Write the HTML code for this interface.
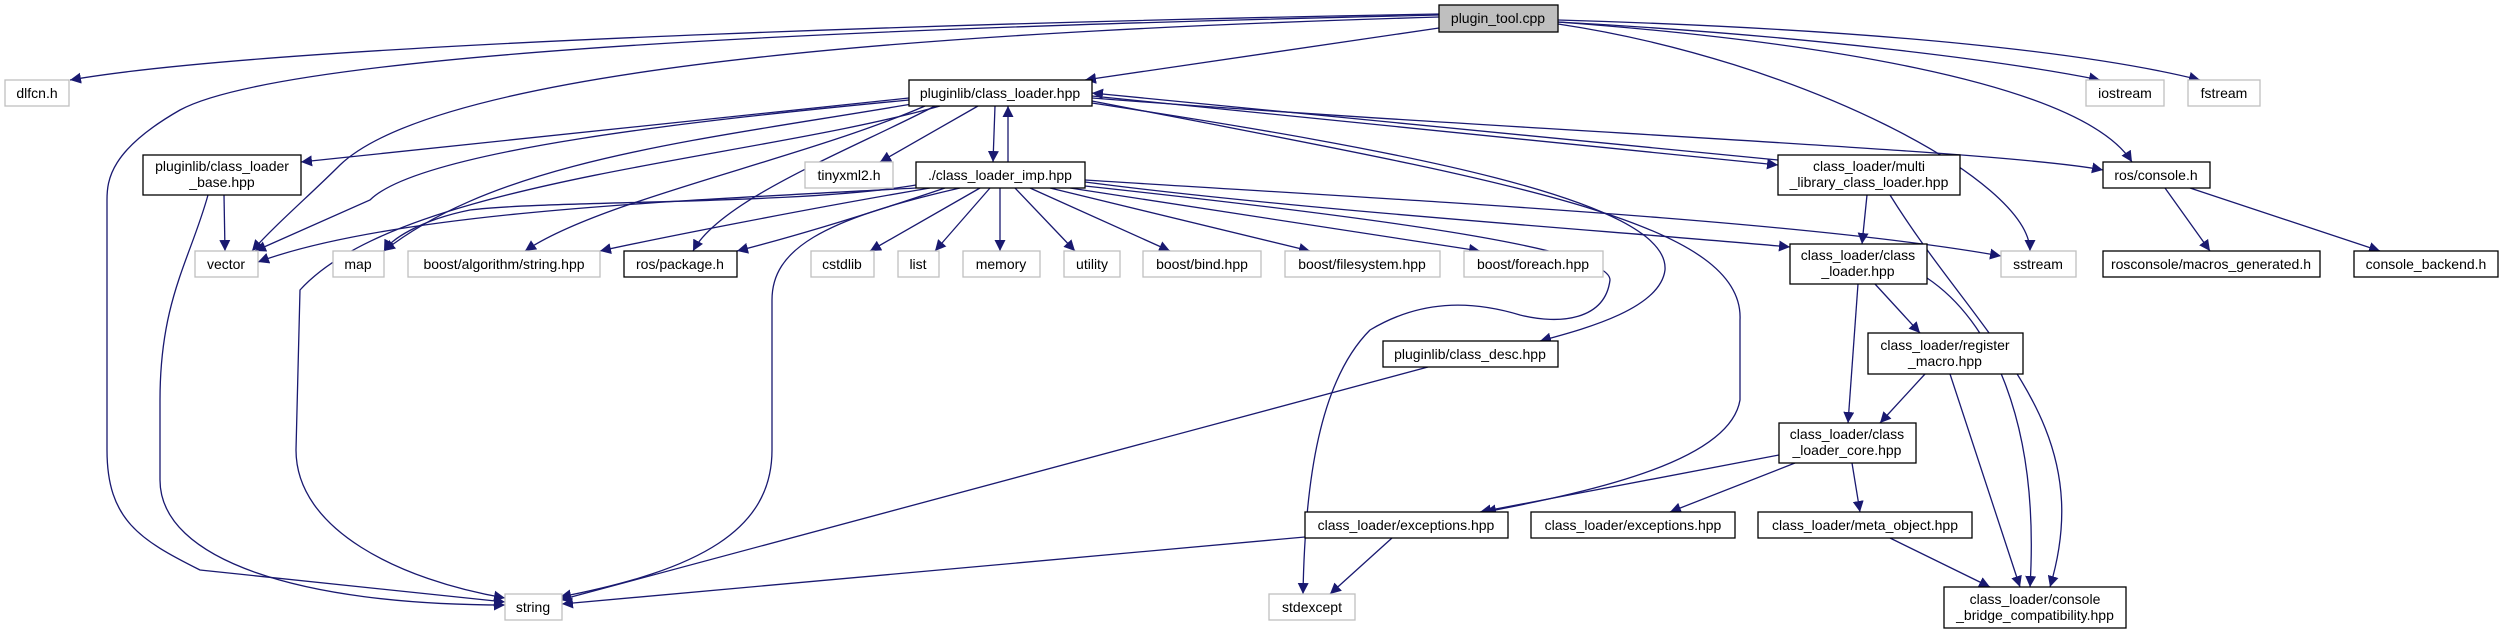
<!DOCTYPE html>
<html><head><meta charset="utf-8"><style>
html,body{margin:0;padding:0;background:#fff;}
svg{display:block;}
text{font-family:"Liberation Sans",sans-serif;font-size:14px;fill:#000;text-anchor:middle;}
</style></head><body>
<svg width="2504" height="633" viewBox="0 0 2504 633" xmlns="http://www.w3.org/2000/svg">
<defs>
<marker id="a" viewBox="0 0 10 10" refX="10" refY="5" markerWidth="11" markerHeight="11" markerUnits="userSpaceOnUse" orient="auto">
<path d="M0,0 L10,5 L0,10 z" fill="#191970"/>
</marker>
</defs>
<g fill="none" stroke="#191970" stroke-width="1.3" marker-end="url(#a)">
<path d="M1439,14 C1100,20 300,40 70,80"/>
<path d="M1439,17 C1000,30 450,60 340,165 C310,195 275,225 252,251"/>
<path d="M1439,15 C1000,25 300,45 180,110 C110,150 107,180 107,200 L107,450 C107,520 140,540 200,570 L505,602"/>
<path d="M1439,28 L1085,80"/>
<path d="M1558,22 C1800,35 2000,60 2100,80"/>
<path d="M1558,20 C1900,30 2100,55 2200,80"/>
<path d="M1558,22 C1800,40 2080,80 2132,162"/>
<path d="M1558,24 C1800,60 2030,180 2030,251"/>
<path d="M909,98 L301,162"/>
<path d="M909,100 C700,120 420,150 370,200 L255,251"/>
<path d="M912,104 C700,140 500,160 384,251"/>
<path d="M925,106 C800,160 600,200 525,251"/>
<path d="M935,106 C850,150 720,200 693,251"/>
<path d="M978,106 L880,162"/>
<path d="M995,106 L993,162"/>
<path d="M1008,162 L1008,106"/>
<path d="M940,106 C750,160 400,180 300,290 L296,450 C296,530 400,580 505,598"/>
<path d="M1092,103 C1400,150 1670,200 1665,270 C1660,310 1580,330 1540,341"/>
<path d="M1092,101 C1500,180 1745,220 1740,320 L1740,400 C1730,460 1600,490 1485,512"/>
<path d="M1092,96 L1778,165"/>
<path d="M1778,160 L1092,93"/>
<path d="M1092,98 C1500,130 2000,150 2103,170"/>
<path d="M916,188 C700,200 400,210 258,262"/>
<path d="M916,185 C800,205 550,200 470,210 C420,220 390,240 384,251"/>
<path d="M930,188 C800,210 650,240 600,251"/>
<path d="M945,188 C850,220 780,240 737,251"/>
<path d="M980,188 L870,251"/>
<path d="M990,188 L935,251"/>
<path d="M1000,188 L1000,251"/>
<path d="M1015,188 L1075,251"/>
<path d="M1030,188 L1170,251"/>
<path d="M1050,188 L1310,251"/>
<path d="M1070,188 L1480,251"/>
<path d="M1085,182 C1300,210 1600,230 1790,247"/>
<path d="M1085,180 C1400,200 1800,220 2001,256"/>
<path d="M960,188 C820,220 772,250 772,300 L772,450 C772,530 700,570 560,597"/>
<path d="M1085,186 C1400,220 1610,250 1610,280 C1605,320 1560,325 1520,315 C1470,300 1420,300 1370,330 C1320,380 1305,480 1303,594"/>
<path d="M224,195 L225,251"/>
<path d="M208,195 C190,260 160,300 160,400 L160,480 C160,560 300,605 505,605"/>
<path d="M1867,195 L1862,244"/>
<path d="M1890,195 C1980,340 2100,420 2050,587"/>
<path d="M2165,188 L2210,251"/>
<path d="M2190,188 L2380,251"/>
<path d="M1858,284 L1848,423"/>
<path d="M1875,284 L1920,333"/>
<path d="M1927,278 C1990,320 2040,420 2030,587"/>
<path d="M1925,374 L1880,423"/>
<path d="M1950,374 L2020,587"/>
<path d="M1779,455 L1480,512"/>
<path d="M1795,463 L1670,512"/>
<path d="M1852,463 L1860,512"/>
<path d="M1890,538 L1990,587"/>
<path d="M1305,537 L562,604"/>
<path d="M1392,538 L1330,594"/>
<path d="M1428,367 L560,600"/>
</g>
<g stroke-width="1.3">
<!-- gray boxes -->
<g fill="#fff" stroke="#bfbfbf">
<rect x="5" y="80" width="64" height="26"/>
<rect x="805" y="162" width="88" height="26"/>
<rect x="2086" y="80" width="78" height="26"/>
<rect x="2188" y="80" width="72" height="26"/>
<rect x="195" y="251" width="63" height="26"/>
<rect x="333" y="251" width="51" height="26"/>
<rect x="408" y="251" width="192" height="26"/>
<rect x="811" y="251" width="63" height="26"/>
<rect x="898" y="251" width="41" height="26"/>
<rect x="963" y="251" width="77" height="26"/>
<rect x="1064" y="251" width="56" height="26"/>
<rect x="1143" y="251" width="118" height="26"/>
<rect x="1285" y="251" width="155" height="26"/>
<rect x="1464" y="251" width="139" height="26"/>
<rect x="2001" y="251" width="75" height="26"/>
<rect x="505" y="594" width="57" height="26"/>
<rect x="1269" y="594" width="86" height="26"/>
</g>
<g fill="#fff" stroke="#000">
<rect x="1439" y="5" width="119" height="27" fill="#bfbfbf"/>
<rect x="909" y="80" width="183" height="26"/>
<rect x="143" y="155" width="158" height="40"/>
<rect x="916" y="162" width="169" height="26"/>
<rect x="1778" y="155" width="182" height="40"/>
<rect x="2103" y="162" width="107" height="26"/>
<rect x="624" y="251" width="113" height="26"/>
<rect x="2103" y="251" width="217" height="26"/>
<rect x="2354" y="251" width="144" height="26"/>
<rect x="1790" y="244" width="137" height="40"/>
<rect x="1383" y="341" width="175" height="26"/>
<rect x="1868" y="333" width="155" height="41"/>
<rect x="1779" y="423" width="137" height="40"/>
<rect x="1305" y="512" width="203" height="26"/>
<rect x="1531" y="512" width="204" height="26"/>
<rect x="1758" y="512" width="214" height="26"/>
<rect x="1944" y="587" width="182" height="41"/>
</g>
</g>
<g>
<text x="1498" y="23">plugin_tool.cpp</text>
<text x="37" y="98">dlfcn.h</text>
<text x="1000" y="98">pluginlib/class_loader.hpp</text>
<text x="2125" y="98">iostream</text>
<text x="2224" y="98">fstream</text>
<text x="222" y="171">pluginlib/class_loader</text>
<text x="222" y="187">_base.hpp</text>
<text x="849" y="180">tinyxml2.h</text>
<text x="1000" y="180">./class_loader_imp.hpp</text>
<text x="1869" y="171">class_loader/multi</text>
<text x="1869" y="187">_library_class_loader.hpp</text>
<text x="2156" y="180">ros/console.h</text>
<text x="226" y="269">vector</text>
<text x="358" y="269">map</text>
<text x="504" y="269">boost/algorithm/string.hpp</text>
<text x="680" y="269">ros/package.h</text>
<text x="842" y="269">cstdlib</text>
<text x="918" y="269">list</text>
<text x="1001" y="269">memory</text>
<text x="1092" y="269">utility</text>
<text x="1202" y="269">boost/bind.hpp</text>
<text x="1362" y="269">boost/filesystem.hpp</text>
<text x="1533" y="269">boost/foreach.hpp</text>
<text x="2038" y="269">sstream</text>
<text x="2211" y="269">rosconsole/macros_generated.h</text>
<text x="2426" y="269">console_backend.h</text>
<text x="1858" y="260">class_loader/class</text>
<text x="1858" y="276">_loader.hpp</text>
<text x="1470" y="359">pluginlib/class_desc.hpp</text>
<text x="1945" y="350">class_loader/register</text>
<text x="1945" y="366">_macro.hpp</text>
<text x="1847" y="439">class_loader/class</text>
<text x="1847" y="455">_loader_core.hpp</text>
<text x="1406" y="530">class_loader/exceptions.hpp</text>
<text x="1633" y="530">class_loader/exceptions.hpp</text>
<text x="1865" y="530">class_loader/meta_object.hpp</text>
<text x="533" y="612">string</text>
<text x="1312" y="612">stdexcept</text>
<text x="2035" y="604">class_loader/console</text>
<text x="2035" y="620">_bridge_compatibility.hpp</text>
</g>
</svg>
</body></html>
